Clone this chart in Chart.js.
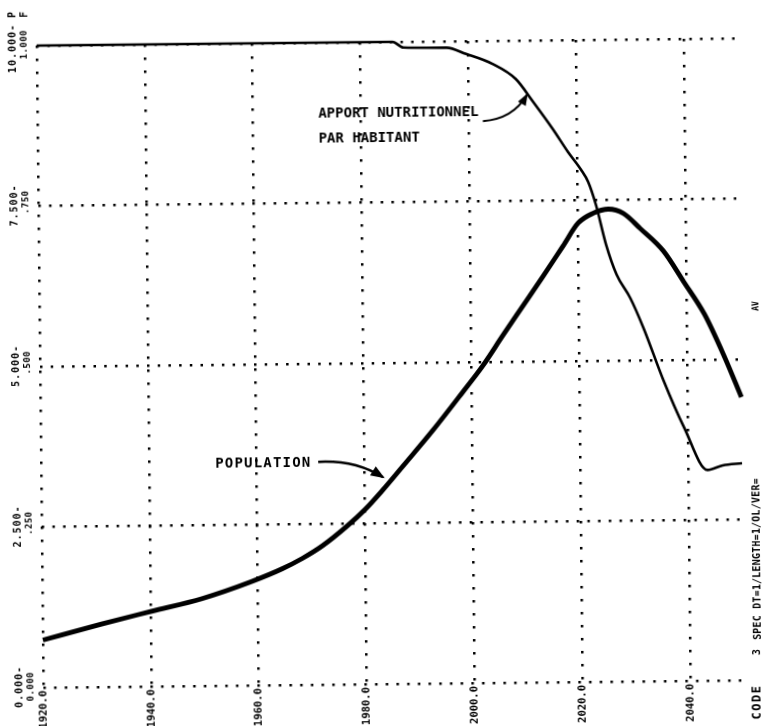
<!DOCTYPE html>
<html>
<head>
<meta charset="utf-8">
<script src="https://cdn.jsdelivr.net/npm/chart.js@4.4.1/dist/chart.umd.min.js"></script>
<style>
  html, body { margin: 0; padding: 0; background: #fff; overflow: hidden; }
  #sheet { width: 765px; height: 726px; transform: rotate(-0.6deg); transform-origin: 382.5px 363px; }
  canvas { display: block; }
</style>
</head>
<body>
<div id="sheet"><canvas id="plot" width="765" height="726"></canvas></div>
<script>
// Population (billions, left scale 0-10)
const popYears  = [1920, 1930.9, 1940.2, 1949.6, 1958.9, 1964.5, 1968.3, 1972.0, 1976.7, 1980.1, 1983.3, 1987.0, 1992.7, 1998.3, 2002.1, 2005.9, 2009.7, 2013.5, 2017.2, 2020.1, 2022.9, 2025.7, 2028.5, 2031.6, 2035.8, 2039.5, 2043.3, 2047.0, 2050];
const popValues = [0.74, 0.98, 1.17, 1.36, 1.62, 1.81, 1.97, 2.16, 2.47, 2.73, 3.02, 3.38, 3.94, 4.53, 4.94, 5.41, 5.87, 6.33, 6.79, 7.15, 7.30, 7.36, 7.29, 7.05, 6.70, 6.22, 5.71, 5.03, 4.41];

// Food per capita (relative, second reading 0-1)
const foodYears  = [1920, 1940, 1960, 1980, 1986, 1988, 1996, 1999.6, 2004.5, 2008.8, 2011.9, 2015.6, 2018.3, 2020.7, 2022.0, 2023.4, 2025.2, 2027.1, 2029.6, 2032.0, 2035.6, 2039.3, 2043.6, 2046.4, 2050];
const foodValues = [1.0, 1.0, 1.0, 1.0, 1.0, 0.991, 0.990, 0.980, 0.964, 0.940, 0.905, 0.861, 0.826, 0.798, 0.779, 0.743, 0.681, 0.634, 0.597, 0.550, 0.468, 0.395, 0.328, 0.335, 0.338];

// Axis ticks
const xTickLabels    = ["1920.0", "1940.0", "1960.0", "1980.0", "2000.0", "2020.0", "2040.0"];
const yTickValues    = [0, 2.5, 5, 7.5, 10];
const popTickLabels  = ["0.000-", "2.500-", "5.000-", "7.500-", "10.000-"];
const foodTickValues = [0, 0.25, 0.5, 0.75, 1];
const foodTickLabels = ["0.000", ".250", ".500", ".750", "1.000"];

const MONO = '"DejaVu Sans Mono", "Liberation Mono", monospace';

// Vertical axis captions, curve labels with arrows, and the run caption
const decorations = {
  id: 'decorations',
  afterDraw(chart) {
    const { ctx } = chart;
    const x = chart.scales.x, y = chart.scales.y, yf = chart.scales.yFood;
    const px = v => x.getPixelForValue(v);
    const py = v => y.getPixelForValue(v);

    ctx.save();
    ctx.fillStyle = '#000';
    ctx.strokeStyle = '#000';

    // text rotated to read upwards; align 'right' puts its end at (cx, cy)
    const vtext = (txt, cx, cy, font, spacing, align) => {
      ctx.save();
      ctx.font = font;
      ctx.letterSpacing = spacing + 'px';
      ctx.textAlign = align || 'center';
      ctx.textBaseline = 'middle';
      ctx.translate(cx, cy);
      ctx.rotate(-Math.PI / 2);
      ctx.fillText(txt, 0, 0);
      ctx.restore();
    };

    yTickValues.forEach((v, i) => vtext(popTickLabels[i], 16, py(v) - 22, 'bold 10px ' + MONO, 1.0, 'right'));
    foodTickValues.forEach((v, i) => vtext(foodTickLabels[i], 28, yf.getPixelForValue(v) - 16, 'bold 9px ' + MONO, 0.5, 'right'));
    vtext('P', 16, 11, 'bold 10px ' + MONO, 0);
    vtext('F', 28, 11, 'bold 10px ' + MONO, 0);

    // Curve labels
    ctx.font = 'bold 14px ' + MONO;
    ctx.letterSpacing = '0px';
    ctx.textAlign = 'left';
    ctx.textBaseline = 'alphabetic';
    ctx.fillText('APPORT NUTRITIONNEL', px(1972.1), py(8.83));
    ctx.fillText('PAR HABITANT', px(1972.1), py(8.45));
    ctx.letterSpacing = '1.2px';
    ctx.fillText('POPULATION', px(1952.3), py(3.39));
    ctx.letterSpacing = '0px';

    const arrow = (x0, y0, cx, cy, x1, y1, w, head) => {
      ctx.lineWidth = w;
      ctx.beginPath();
      ctx.moveTo(x0, y0);
      ctx.quadraticCurveTo(cx, cy, x1, y1);
      ctx.stroke();
      const a = Math.atan2(y1 - cy, x1 - cx);
      ctx.beginPath();
      ctx.moveTo(x1 + 2 * Math.cos(a), y1 + 2 * Math.sin(a));
      ctx.lineTo(x1 - head * Math.cos(a) + head * 0.45 * Math.sin(a), y1 - head * Math.sin(a) - head * 0.45 * Math.cos(a));
      ctx.lineTo(x1 - head * Math.cos(a) - head * 0.45 * Math.sin(a), y1 - head * Math.sin(a) + head * 0.45 * Math.cos(a));
      ctx.closePath();
      ctx.fill();
    };
    arrow(px(2002.6), py(8.75), px(2008.2), py(8.78), px(2010.8), py(9.15), 2, 10);
    arrow(px(1971.4), py(3.47), px(1978.2), py(3.50), px(1983.4), py(3.22), 2.4, 12);

    // Run caption along the right edge
    vtext('SPEC DT=1/LENGTH=1/OL/VER=', 755, 563, 'bold 10px ' + MONO, 0.2);
    vtext('3', 754, 656, 'bold 10px ' + MONO, 0);
    vtext('CODE', 753.5, 706, 'bold 12px ' + MONO, 1.5);
    vtext('AV', 756.5, 310, 'bold 8px ' + MONO, 0);
    ctx.restore();
  }
};

new Chart(document.getElementById('plot'), {
  type: 'line',
  data: {
    datasets: [
      {
        label: 'POPULATION',
        data: popYears.map((yr, i) => ({ x: yr, y: popValues[i] })),
        yAxisID: 'y',
        borderColor: '#000',
        borderWidth: 4.8,
        pointRadius: 0,
        cubicInterpolationMode: 'monotone',
        clip: false
      },
      {
        label: 'APPORT NUTRITIONNEL PAR HABITANT',
        data: foodYears.map((yr, i) => ({ x: yr, y: foodValues[i] })),
        yAxisID: 'yFood',
        borderColor: '#000',
        borderWidth: 2.6,
        pointRadius: 0,
        cubicInterpolationMode: 'monotone',
        clip: false
      }
    ]
  },
  options: {
    responsive: false,
    animation: false,
    events: [],
    layout: { padding: { left: 40, right: 24, top: 42, bottom: 0 } },
    plugins: { legend: { display: false }, tooltip: { enabled: false } },
    scales: {
      x: {
        type: 'linear',
        min: 1920,
        max: 2050,
        grid: { color: '#000', lineWidth: 2.5, drawTicks: false },
        border: { display: false, dash: [2.5, 10.5] },
        ticks: {
          stepSize: 20,
          includeBounds: false,
          autoSkip: false,
          minRotation: 90,
          maxRotation: 90,
          padding: 3,
          color: '#000',
          font: { family: MONO, weight: 'bold', size: 10.5 },
          callback: (v, i) => xTickLabels[i]
        },
        afterFit: s => { s.height = 42; }
      },
      y: {
        position: 'left',
        min: 0,
        max: 10,
        grid: { color: '#000', lineWidth: 2.5, drawTicks: false },
        border: { display: false, dash: [2.5, 8.2] },
        ticks: { display: false, stepSize: 2.5 },
        afterFit: s => { s.width = 0; }
      },
      yFood: {
        position: 'left',
        display: false,
        min: 0,
        max: 1
      }
    }
  },
  plugins: [decorations]
});
</script>
</body>
</html>
